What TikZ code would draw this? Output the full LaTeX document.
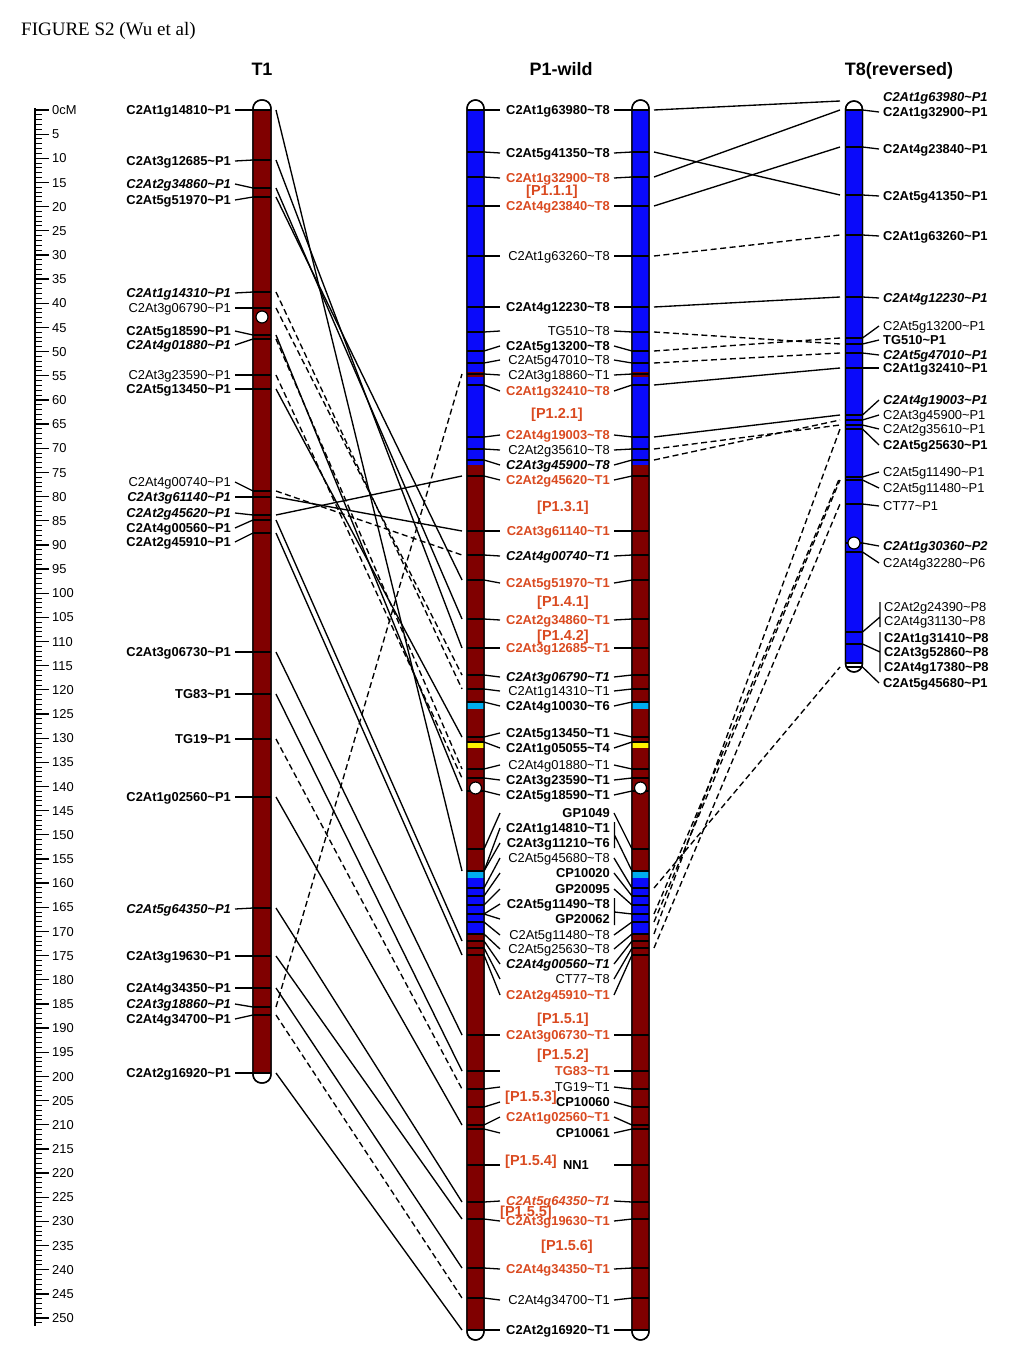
\documentclass[tikz,border=0pt]{standalone}
\usepackage{fontspec}
\setmainfont{Liberation Sans}
\newfontfamily\serfam{Liberation Serif}
\newcommand\tld{\textasciitilde}
\newcommand\lf{\fontsize{12.9}{14}\selectfont}
\definecolor{maroon}{RGB}{128,0,0}
\definecolor{cblue}{RGB}{10,10,250}
\definecolor{orng}{RGB}{218,74,32}
% T1 marker: name, marker y, label y, style, text
\newcommand\Tone[5]{%
  \draw[mk] (253,#2) -- (271,#2);
  \draw[tk] (235,#3) -- (253,#2);
  \node[#4,anchor=east] (n1#1) at (231,#3) {#5};
  \coordinate (a#1) at (276,#2);}
% P1 marker (both copies)
\newcommand\Pone[5]{%
  \draw[mk] (467,#2) -- (484,#2) (632,#2) -- (649,#2);
  \draw[tk] (484,#2) -- (500,#3) (614,#3) -- (632,#2);
  \node[#4,anchor=east] (np#1) at (610,#3) {#5};
  \coordinate (pl#1) at (462,#2);
  \coordinate (pr#1) at (654,#2);}
\newcommand\PoneNR[5]{%
  \draw[mk] (467,#2) -- (484,#2) (632,#2) -- (649,#2);
  \draw[tk] (484,#2) -- (500,#3);
  \node[#4,anchor=east] (np#1) at (610,#3) {#5};
  \coordinate (pl#1) at (462,#2);
  \coordinate (pr#1) at (654,#2);}
% T8 marker
\newcommand\Teight[5]{%
  \draw[mk] (845.5,#2) -- (862.5,#2);
  \draw[tk] (862.5,#2) -- (879,#3);
  \node[#4,anchor=west] (n8#1) at (883,#3) {#5};
  \coordinate (c#1) at (840,#2);}
\begin{document}
\begin{tikzpicture}[x=1pt,y=-1pt,
  mk/.style={line width=1.3pt},
  tk/.style={line width=1.3pt},
  con/.style={line width=1.35pt},
  dcon/.style={line width=1.35pt,dash pattern=on 6pt off 3.5pt},
  lab/.style={inner sep=0pt,text height=9.2pt,text depth=0pt},
  lbN/.style={lab,font=\lf},
  lbB/.style={lab,font=\lf\bfseries},
  lbBI/.style={lab,font=\lf\bfseries\itshape},
  lbO/.style={lab,font=\lf\bfseries,text=orng},
  lbOI/.style={lab,font=\lf\bfseries\itshape,text=orng},
  grp/.style={inner sep=0pt,text height=10.5pt,text depth=0pt,font=\fontsize{14.5}{16}\selectfont\bfseries,text=orng},
  ttl/.style={inner sep=0pt,font=\fontsize{18}{20}\selectfont\bfseries,anchor=base},
  rl/.style={inner sep=0pt,text height=9.2pt,text depth=0pt,font=\lf,anchor=west},
  chr/.style={line width=1.4pt,rounded corners=8.5pt}]
\useasboundingbox (0,0) rectangle (1024,1365);
\fill[white] (0,0) rectangle (1024,1365);

% title
\node[inner sep=0pt,anchor=base west,font=\serfam\fontsize{19}{21}\selectfont] (fig) at (21,35) {FIGURE S2 (Wu et al)};
\node[ttl] (tT1) at (262,75) {T1};
\node[ttl] (tP1) at (561,75) {P1-wild};
\node[ttl] (tT8) at (899,75) {T8(reversed)};

% ruler
\draw[line width=1.6pt] (35,108) -- (35,1326);
\foreach \i in {0,...,251} \draw[line width=1pt] (35,{110+4.832*\i}) -- (42,{110+4.832*\i});
\foreach \i in {0,5,...,250} \draw[line width=1.3pt] (35,{110+4.832*\i}) -- (49,{110+4.832*\i});
\node[rl] (r0) at (52,110) {0cM};
\foreach \i in {5,10,...,250} \node[rl] (r\i) at (52,{110+4.832*\i}) {\i};

% chromosome bodies
\filldraw[chr,fill=white] (253,100) rectangle (271,1083);
\fill[maroon] (253,110) rectangle (271,1073);
\foreach \xa/\xb in {467/484,632/649} {
  \filldraw[chr,fill=white] (\xa,100) rectangle (\xb,1340);
  \fill[cblue] (\xa,110) rectangle (\xb,465);
  \fill[maroon] (\xa,372) rectangle (\xb,377);
  \fill[maroon] (\xa,465) rectangle (\xb,1330);
  \fill[cyan] (\xa,702) rectangle (\xb,709);
  \fill[yellow] (\xa,742) rectangle (\xb,748);
  \fill[cyan] (\xa,871) rectangle (\xb,878);
  \fill[cblue] (\xa,878) rectangle (\xb,933);
  \draw[mk] (\xa,110) -- (\xb,110) (\xa,1330) -- (\xb,1330);
}
\filldraw[chr,fill=white] (845.5,101) rectangle (862.5,672);
\fill[cblue] (845.5,110) rectangle (862.5,663);
\draw[mk] (253,110) -- (271,110) (253,1073) -- (271,1073) (845.5,110) -- (862.5,110) (845.5,663) -- (862.5,663);

% T1 markers
\Tone{14810}{110}{110}{lbB}{C2At1g14810\tld P1}
\Tone{12685}{160}{161}{lbB}{C2At3g12685\tld P1}
\Tone{34860}{188}{184}{lbBI}{C2At2g34860\tld P1}
\Tone{51970}{197}{200}{lbB}{C2At5g51970\tld P1}
\Tone{14310}{292}{293}{lbBI}{C2At1g14310\tld P1}
\Tone{06790}{308}{308}{lbN}{C2At3g06790\tld P1}
\Tone{18590}{335}{331}{lbB}{C2At5g18590\tld P1}
\Tone{01880}{339}{345}{lbBI}{C2At4g01880\tld P1}
\Tone{23590}{375}{375}{lbN}{C2At3g23590\tld P1}
\Tone{13450}{389}{389}{lbB}{C2At5g13450\tld P1}
\Tone{00740}{491}{482}{lbN}{C2At4g00740\tld P1}
\Tone{61140}{497}{497}{lbBI}{C2At3g61140\tld P1}
\Tone{45620}{515}{513}{lbBI}{C2At2g45620\tld P1}
\Tone{00560}{520}{528}{lbB}{C2At4g00560\tld P1}
\Tone{45910}{533}{542}{lbB}{C2At2g45910\tld P1}
\Tone{06730}{652}{652}{lbB}{C2At3g06730\tld P1}
\Tone{TG83}{694}{694}{lbB}{TG83\tld P1}
\Tone{TG19}{739}{739}{lbB}{TG19\tld P1}
\Tone{02560}{797}{797}{lbB}{C2At1g02560\tld P1}
\Tone{64350}{908}{909}{lbBI}{C2At5g64350\tld P1}
\Tone{19630}{956}{956}{lbB}{C2At3g19630\tld P1}
\Tone{34350}{988}{988}{lbB}{C2At4g34350\tld P1}
\Tone{18860}{1007}{1004}{lbBI}{C2At3g18860\tld P1}
\Tone{34700}{1015}{1019}{lbB}{C2At4g34700\tld P1}
\Tone{16920}{1073}{1073}{lbB}{C2At2g16920\tld P1}

% P1 markers
\Pone{63980}{110}{110}{lbB}{C2At1g63980\tld T8}
\Pone{41350}{152}{153}{lbB}{C2At5g41350\tld T8}
\Pone{32900}{177}{178}{lbO}{C2At1g32900\tld T8}
\Pone{23840}{206}{206}{lbO}{C2At4g23840\tld T8}
\Pone{63260}{256}{256}{lbN}{C2At1g63260\tld T8}
\Pone{12230}{307}{307}{lbB}{C2At4g12230\tld T8}
\Pone{TG510}{332}{331}{lbN}{TG510\tld T8}
\Pone{13200}{351}{346}{lbB}{C2At5g13200\tld T8}
\Pone{47010}{363}{360}{lbN}{C2At5g47010\tld T8}
\Pone{18860}{374}{375}{lbN}{C2At3g18860\tld T1}
\Pone{32410}{385}{391}{lbO}{C2At1g32410\tld T8}
\Pone{19003}{437}{435}{lbO}{C2At4g19003\tld T8}
\Pone{35610}{449}{450}{lbN}{C2At2g35610\tld T8}
\Pone{45900}{460}{465}{lbBI}{C2At3g45900\tld T8}
\Pone{45620}{476}{480}{lbO}{C2At2g45620\tld T1}
\Pone{61140}{531}{531}{lbO}{C2At3g61140\tld T1}
\Pone{00740}{555}{556}{lbBI}{C2At4g00740\tld T1}
\Pone{51970}{580}{583}{lbO}{C2At5g51970\tld T1}
\Pone{34860}{619}{620}{lbO}{C2At2g34860\tld T1}
\Pone{12685}{648}{648}{lbO}{C2At3g12685\tld T1}
\Pone{06790}{675}{677}{lbBI}{C2At3g06790\tld T1}
\Pone{14310}{689}{691}{lbN}{C2At1g14310\tld T1}
\Pone{10030}{702}{706}{lbB}{C2At4g10030\tld T6}
\Pone{13450}{737}{733}{lbB}{C2At5g13450\tld T1}
\Pone{05055}{742}{748}{lbB}{C2At1g05055\tld T4}
\Pone{01880}{769}{765}{lbN}{C2At4g01880\tld T1}
\Pone{23590}{778}{780}{lbB}{C2At3g23590\tld T1}
\Pone{18590}{791}{795}{lbB}{C2At5g18590\tld T1}
\Pone{GP1049}{849}{813}{lbB}{GP1049}
\PoneNR{14810}{871}{828}{lbB}{C2At1g14810\tld T1}
\PoneNR{11210}{871}{843}{lbB}{C2At3g11210\tld T6}
\Pone{45680}{888}{858}{lbN}{C2At5g45680\tld T8}
\Pone{CP10020}{896}{873}{lbB}{CP10020}
\Pone{GP20095}{905}{889}{lbB}{GP20095}
\PoneNR{11490}{914}{904}{lbB}{C2At5g11490\tld T8}
\PoneNR{GP20062}{914}{919}{lbB}{GP20062}
\Pone{11480}{922}{935}{lbN}{C2At5g11480\tld T8}
\Pone{25630}{934}{949}{lbN}{C2At5g25630\tld T8}
\Pone{00560}{941}{964}{lbBI}{C2At4g00560\tld T1}
\Pone{CT77}{948}{979}{lbN}{CT77\tld T8}
\Pone{45910}{955}{995}{lbO}{C2At2g45910\tld T1}
\Pone{06730}{1035}{1035}{lbO}{C2At3g06730\tld T1}
\Pone{TG83}{1071}{1071}{lbO}{TG83\tld T1}
\Pone{TG19}{1089}{1087}{lbN}{TG19\tld T1}
\Pone{CP10060}{1107}{1102}{lbB}{CP10060}
\Pone{02560}{1125}{1117}{lbO}{C2At1g02560\tld T1}
\Pone{CP10061}{1129}{1133}{lbB}{CP10061}
\Pone{64350}{1202}{1201}{lbOI}{C2At5g64350\tld T1}
\Pone{19630}{1219}{1221}{lbO}{C2At3g19630\tld T1}
\Pone{34350}{1268}{1269}{lbO}{C2At4g34350\tld T1}
\Pone{34700}{1298}{1300}{lbN}{C2At4g34700\tld T1}
\Pone{16920}{1330}{1330}{lbB}{C2At2g16920\tld T1}
% NN1 row
\draw[mk] (467,1165) -- (500,1165) (614,1165) -- (649,1165);
\node[lbB] (npNN1) at (576,1165) {NN1};
% bars (right side) for co-segregating markers
\draw[tk] (614.5,822) -- (614.5,848) (614.5,835) -- (632,871);
\draw[tk] (614.5,898) -- (614.5,925) (614.5,912) -- (632,914);

% group labels
\node[grp] (g111) at (552,190) {[P1.1.1]};
\node[grp] (g121) at (557,413) {[P1.2.1]};
\node[grp] (g131) at (563,506) {[P1.3.1]};
\node[grp] (g141) at (563,601) {[P1.4.1]};
\node[grp] (g142) at (563,635) {[P1.4.2]};
\node[grp] (g151) at (563,1018) {[P1.5.1]};
\node[grp] (g152) at (563,1054) {[P1.5.2]};
\node[grp] (g153) at (531,1096) {[P1.5.3]};
\node[grp] (g154) at (531,1160) {[P1.5.4]};
\node[grp] (g155) at (526,1211) {[P1.5.5]};
\node[grp] (g156) at (567,1245) {[P1.5.6]};

% T8 markers
\node[lbBI,anchor=west] (n863980) at (883,97) {C2At1g63980\tld P1};
\coordinate (c63980) at (840,101);
\Teight{32900}{110}{112}{lbB}{C2At1g32900\tld P1}
\Teight{23840}{147}{149}{lbB}{C2At4g23840\tld P1}
\Teight{41350}{195}{196}{lbB}{C2At5g41350\tld P1}
\Teight{63260}{235}{236}{lbB}{C2At1g63260\tld P1}
\Teight{12230}{297}{298}{lbBI}{C2At4g12230\tld P1}
\Teight{13200}{338}{326}{lbN}{C2At5g13200\tld P1}
\Teight{TG510}{344}{340}{lbB}{TG510\tld P1}
\Teight{47010}{353}{355}{lbBI}{C2At5g47010\tld P1}
\Teight{32410}{368}{368}{lbB}{C2At1g32410\tld P1}
\Teight{19003}{415}{400}{lbBI}{C2At4g19003\tld P1}
\Teight{45900}{420}{415}{lbN}{C2At3g45900\tld P1}
\Teight{35610}{425}{429}{lbN}{C2At2g35610\tld P1}
\Teight{25630}{429}{445}{lbB}{C2At5g25630\tld P1}
\Teight{11490}{477}{472}{lbN}{C2At5g11490\tld P1}
\Teight{11480}{480}{488}{lbN}{C2At5g11480\tld P1}
\Teight{CT77}{504}{506}{lbN}{CT77\tld P1}
\Teight{30360}{543}{546}{lbBI}{C2At1g30360\tld P2}
\Teight{32280}{552}{563}{lbN}{C2At4g32280\tld P6}
\Teight{45680}{667}{683}{lbB}{C2At5g45680\tld P1}
\node[lbN,anchor=west] (n824390) at (884,607) {C2At2g24390\tld P8};
\node[lbN,anchor=west] (n831130) at (884,621) {C2At4g31130\tld P8};
\node[lbB,anchor=west] (n831410) at (884,638) {C2At1g31410\tld P8};
\node[lbB,anchor=west] (n852860) at (884,652) {C2At3g52860\tld P8};
\node[lbB,anchor=west] (n817380) at (884,667) {C2At4g17380\tld P8};
\draw[mk] (845.5,632) -- (862.5,632) (845.5,644) -- (862.5,644);
\draw[tk] (880,602) -- (880,627) (880,617) -- (862.5,632);
\draw[tk] (880,632) -- (880,672) (880,652) -- (862.5,644);

% outlines on top
\draw[chr] (253,100) rectangle (271,1083);
\draw[chr] (467,100) rectangle (484,1340);
\draw[chr] (632,100) rectangle (649,1340);
\draw[chr] (845.5,101) rectangle (862.5,672);

% centromeres
\draw[line width=1.2pt,fill=white] (262,317) circle[radius=6pt];
\draw[line width=1.2pt,fill=white] (475.5,788) circle[radius=6pt];
\draw[line width=1.2pt,fill=white] (640.5,788) circle[radius=6pt];
\draw[line width=1.2pt,fill=white] (854,543) circle[radius=6pt];

% connectors T1 -> P1
\foreach \m in {14810,12685,34860,51970,18590,13450,61140,45620,00560,45910,06730,TG83,02560,64350,19630,34350,16920}
  \draw[con] (a\m) -- (pl\m);
\foreach \m in {14310,06790,01880,23590,00740,TG19,18860,34700}
  \draw[dcon] (a\m) -- (pl\m);
% connectors P1 -> T8
\foreach \m in {63980,41350,32900,23840,12230,32410,19003}
  \draw[con] (pr\m) -- (c\m);
\foreach \m in {63260,TG510,13200,47010,35610,45900,45680,11490,11480,25630,CT77}
  \draw[dcon] (pr\m) -- (c\m);
\end{tikzpicture}
\end{document}
